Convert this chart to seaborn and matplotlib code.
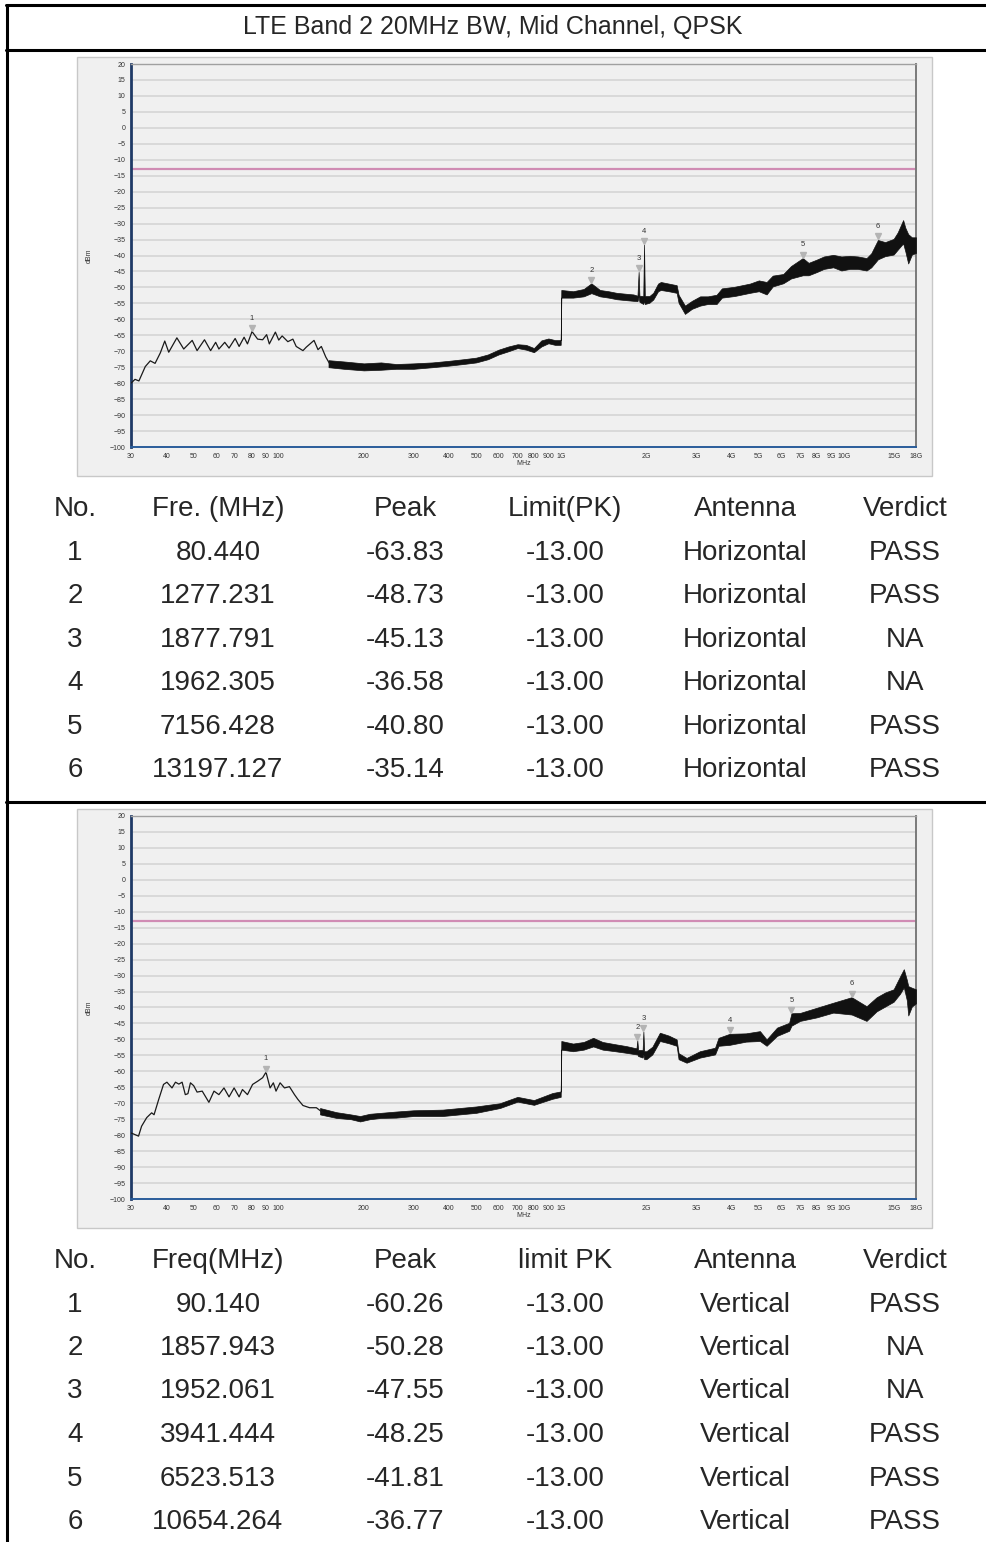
import numpy as np
import pandas as pd
import seaborn as sns
import matplotlib.pyplot as plt
from matplotlib.lines import Line2D
from matplotlib.patches import Rectangle
from matplotlib.ticker import NullLocator, MultipleLocator

W, H = 987, 1542

title = "LTE Band 2 20MHz BW, Mid Channel, QPSK"

# ---- scan 1: horizontal antenna ----
h_line_f = [30, 31, 32, 33.7, 35.1, 36.5, 38.1, 39.5, 40.8, 43.6, 46.1, 49.4, 51.4, 54.6,
            57.4, 59.8, 61.4, 64.4, 66.7, 70.1, 72.4, 75.4, 77.5, 80.44, 84.2, 87.7, 90.6,
            92.6, 97.3, 100, 102.8, 107.7, 112.2, 115.3, 121.8, 125.2, 133.3, 137.7, 141.5,
            146.7, 151.6]
h_line_v = [-80, -78.8, -79.3, -74.8, -73.0, -73.8, -70.5, -66.8, -70.3, -65.8, -69.3, -66.6,
            -69.8, -66.4, -69.8, -67.2, -69.3, -67.2, -69.0, -66.0, -68.5, -65.6, -67.7, -63.83,
            -66.2, -66.4, -64.8, -67.7, -64.0, -66.5, -65.2, -67.0, -66.2, -68.5, -69.8, -68.7,
            -66.6, -69.5, -68.5, -71.8, -74.0]

h_band_f = [150, 170, 200, 230, 260, 300, 350, 400, 450, 500, 550, 600, 650, 700, 750, 800,
            850, 900, 950, 995, 1000, 1100, 1200, 1277.231, 1370, 1470, 1570, 1700, 1800, 1860,
            1877.791, 1890, 1950, 1962.305, 1975, 2050, 2115, 2200, 2250, 2400, 2560, 2600, 2739,
            2900, 3100, 3300, 3544, 3700, 4100, 4651, 5000, 5328, 5600, 6102, 6500, 7156.428,
            7500, 8011, 8500, 9169, 9800, 10500, 11200, 12030, 12500, 13197.127, 14000, 15000,
            15500, 16210, 16500, 16890, 17400, 18000]
h_band_lo = [-75, -75.5, -76, -75.8, -75.5, -75.5, -75, -74.5, -74, -73.5, -72.5, -71, -70,
             -69, -69.5, -70.3, -68.5, -67.5, -68, -68, -53.2, -53.2, -52.8, -51.8, -52.8, -53.2,
             -53.7, -54, -54.2, -54.3, -53, -54.5, -55.2, -54, -55.2, -54.8, -53.8, -51.2, -50.8,
             -51.2, -51.7, -54.8, -58.3, -56.7, -55.7, -55.2, -55.2, -53.2, -52.7, -51.7, -51.2,
             -52.2, -49.7, -48.7, -47.2, -46.2, -46.2, -45.2, -44.2, -43.7, -44.7, -44.2, -44.2,
             -44.7, -43.7, -41.2, -40.2, -39.7, -38.2, -36.2, -38.7, -42.5, -39.7, -39.2]
h_band_hi = [-72.8, -73.2, -73.8, -73.5, -74, -73.8, -73.5, -73, -72.5, -72, -71, -69.5, -68.5,
             -67.8, -68, -69, -66.6, -66, -66.5, -66.5, -50.8, -51.2, -50.5, -48.73, -50.8, -51.2,
             -51.7, -52, -52.2, -52.6, -45.13, -52.6, -52.7, -36.58, -52.7, -52.7, -51.7, -48.8,
             -48.3, -48.8, -49.3, -52.3, -55.7, -54.2, -52.8, -52.8, -52.3, -50.3, -49.8, -48.8,
             -47.8, -48.3, -46.3, -45.8, -43.3, -40.8, -42.3, -41.3, -40.3, -39.8, -40.3, -40.1,
             -40.3, -40.8, -39.3, -35.14, -35.8, -34.8, -32.8, -28.9, -31.3, -33.3, -34.3, -34.3]

h_no = ["1", "2", "3", "4", "5", "6"]
h_freq = ["80.440", "1277.231", "1877.791", "1962.305", "7156.428", "13197.127"]
h_peak = ["-63.83", "-48.73", "-45.13", "-36.58", "-40.80", "-35.14"]
h_verdict = ["PASS", "PASS", "NA", "NA", "PASS", "PASS"]
h_mark_f = [80.440, 1277.231, 1877.791, 1962.305, 7156.428, 13197.127]
h_mark_v = [-63.83, -48.73, -45.13, -36.58, -40.80, -35.14]

# ---- scan 2: vertical antenna ----
v_line_f = [30, 31.9, 32.7, 34.1, 35.5, 36.2, 37.6, 39.1, 40.2, 41.9, 43.1, 44.3, 45.5, 46.7,
            47.7, 48.7, 50.0, 51.4, 53.6, 56.6, 59.0, 61.4, 64.0, 66.7, 69.5, 72.4, 74.4, 77.5,
            80.8, 84.2, 87.7, 90.14, 93.2, 95.7, 97.8, 101.1, 104.8, 109.1, 113.7, 116.9, 121.8,
            128.6, 135.9, 143.5]
v_line_v = [-79.3, -80.3, -77.2, -74.5, -73.0, -73.6, -68.8, -64.1, -63.4, -65.2, -63.4, -64.0,
            -63.4, -67.3, -67.0, -63.6, -64.5, -66.5, -66.2, -69.7, -66.2, -67.3, -65.2, -68.0,
            -65.2, -68.0, -65.7, -67.3, -64.1, -63.1, -62.0, -60.26, -65.2, -63.6, -66.2, -63.6,
            -65.2, -64.8, -67.3, -68.8, -70.7, -71.4, -71.4, -73.0]

v_band_f = [140, 160, 180, 194, 210, 230, 260, 300, 380, 500, 606, 700, 800, 930, 995, 1000,
            1100, 1200, 1297, 1400, 1550, 1700, 1845, 1857.943, 1870, 1940, 1952.061, 1965, 2000,
            2100, 2233, 2400, 2560, 2600, 2775, 3094, 3500, 3600, 3941.444, 4500, 5046, 5328,
            5800, 6400, 6523.513, 7000, 8011, 9169, 10654.264, 12030, 13059, 14000, 15000, 15800,
            16300, 16700, 16900, 17400, 18000]
v_band_lo = [-73.5, -74.6, -75, -75.7, -75, -74.6, -74.5, -74, -74, -73, -71.5, -69.5, -70.5,
             -68.6, -68, -53.2, -53.7, -53.2, -52.2, -53.2, -53.7, -54.2, -54.7, -54.7, -55.2,
             -55.7, -54.7, -56.2, -56.2, -54.7, -50.5, -51.2, -52, -56.2, -57.3, -55.7, -54.7,
             -52, -51.7, -50.7, -50.5, -52, -48.9, -47.3, -45.7, -44.2, -43.1, -41.6, -42.2,
             -44.2, -41.2, -39.7, -38.2, -35.7, -33.7, -37.7, -42.5, -39.7, -38.7]
v_band_hi = [-71.5, -72.8, -73.5, -74, -73.3, -73, -72.6, -72.2, -72, -71, -70, -68, -69,
             -66.8, -66.3, -50.5, -51.3, -50.8, -49.5, -50.8, -51.5, -52.1, -52.8, -50.28, -53.3,
             -53.3, -47.55, -53.7, -53.7, -52.3, -47.9, -48.8, -50, -54.3, -55.8, -53.7, -52.6,
             -49.5, -48.25, -48.1, -47.4, -50, -46.3, -44.8, -41.81, -41.7, -40.1, -38.5, -36.77,
             -39.6, -36.8, -35.3, -34.3, -30.3, -28, -31.3, -33.3, -33.8, -34.3]

v_no = ["1", "2", "3", "4", "5", "6"]
v_freq = ["90.140", "1857.943", "1952.061", "3941.444", "6523.513", "10654.264"]
v_peak = ["-60.26", "-50.28", "-47.55", "-48.25", "-41.81", "-36.77"]
v_verdict = ["PASS", "NA", "NA", "PASS", "PASS", "PASS"]
v_mark_f = [90.140, 1857.943, 1952.061, 3941.444, 6523.513, 10654.264]
v_mark_v = [-60.26, -50.28, -47.55, -48.25, -41.81, -36.77]

limit_value = -13.0
h_headers = ["No.", "Fre. (MHz)", "Peak", "Limit(PK)", "Antenna", "Verdict"]
v_headers = ["No.", "Freq(MHz)", "Peak", "limit PK", "Antenna", "Verdict"]

x_ticks = [30, 40, 50, 60, 70, 80, 90, 100, 200, 300, 400, 500, 600, 700, 800, 900,
           1000, 2000, 3000, 4000, 5000, 6000, 7000, 8000, 9000, 10000, 15000, 18000]
x_labels = ["30", "40", "50", "60", "70", "80", "90", "100", "200", "300", "400", "500",
            "600", "700", "800", "900", "1G", "2G", "3G", "4G", "5G", "6G", "7G", "8G",
            "9G", "10G", "15G", "18G"]

sns.set_style("white")
plt.rcParams["font.family"] = ["Liberation Sans", "DejaVu Sans"]

fig = plt.figure(figsize=(W / 100, H / 100), dpi=100)


def fx(px):
    return px / W


def fy(py):
    return 1 - py / H


def hline(py, x0=6, x1=W, lw=2.2):
    fig.add_artist(Line2D([fx(x0), fx(x1)], [fy(py), fy(py)], color="black", lw=lw))


def draw_chart(top, line_f, line_v, band_f, band_lo, band_hi, mark_f, mark_v, panel_bottom):
    # grey screenshot panel behind the analyser plot
    fig.add_artist(Rectangle((fx(77), fy(panel_bottom)), fx(932 - 77), (panel_bottom - top + 7) / H,
                             transform=fig.transFigure, facecolor="#F0F0F0",
                             edgecolor="#C8C8C8", lw=1.0, zorder=0))
    ax = fig.add_axes([fx(131), fy(top + 383), fx(916 - 131), 383 / H])
    ax.set_facecolor("#F0F0F0")
    ax.set_xscale("log")
    ax.set_xlim(30, 18000)
    ax.set_ylim(-100, 20)

    for yv in range(-95, 20, 5):
        ax.axhline(yv, color="#D9D9D9", lw=1.4, zorder=1)
    ax.axhline(limit_value, color="#D08CB4", lw=1.6, zorder=2)

    ax.fill_between(band_f, band_lo, band_hi, facecolor="#111111", edgecolor="#111111",
                    lw=0.5, zorder=3)
    df = pd.DataFrame({"f": line_f, "v": line_v})
    sns.lineplot(data=df, x="f", y="v", ax=ax, color="#1A1A1A", lw=0.9,
                 sort=False, estimator=None, zorder=3)

    ax.plot(mark_f, np.array(mark_v) + 1.1, "v", color="#B4B4B4", ms=4, zorder=4)
    for i, (f, v) in enumerate(zip(mark_f, mark_v)):
        ax.annotate(str(i + 1), (f, v), xytext=(0, 9.5), textcoords="offset points",
                    ha="center", va="center", fontsize=5.5, color="#333333")

    ax.set_xticks(x_ticks)
    ax.set_xticklabels(x_labels)
    ax.xaxis.set_minor_locator(NullLocator())
    ax.set_yticks(range(-100, 21, 5))
    ax.yaxis.set_minor_locator(MultipleLocator(1))
    ax.tick_params(axis="both", which="major", labelsize=5, length=2.5, width=0.6,
                   colors="#333333", pad=1.5)
    ax.tick_params(axis="y", which="minor", length=1.2, width=0.5, color="#555555")
    ax.set_xlabel("MHz", fontsize=5, labelpad=0.5, color="#333333")
    ax.set_ylabel("dBm", fontsize=5, labelpad=12, color="#333333")

    ax.spines["left"].set_color("#1F3A66")
    ax.spines["left"].set_linewidth(2.0)
    ax.spines["bottom"].set_color("#2A5C9A")
    ax.spines["bottom"].set_linewidth(1.4)
    ax.spines["top"].set_color("#A0A0A0")
    ax.spines["top"].set_linewidth(1.0)
    ax.spines["right"].set_color("#7A7A7A")
    ax.spines["right"].set_linewidth(1.4)
    return ax


def draw_table(head_y, headers, nos, freqs, peaks, verdicts, antenna):
    col_x = [75, 218, 405, 565, 745, 905]
    step = 43.5
    for cx, txt in zip(col_x, headers):
        fig.text(fx(cx), fy(head_y), txt, ha="center", va="center", fontsize=20)
    for r in range(len(nos)):
        yy = fy(head_y + step * (r + 1))
        row = [nos[r], freqs[r], peaks[r], "%.2f" % limit_value, antenna, verdicts[r]]
        for cx, txt in zip(col_x, row):
            fig.text(fx(cx), yy, txt, ha="center", va="center", fontsize=20)


# table frame
fig.add_artist(Line2D([fx(7), fx(7)], [fy(5), 0], color="black", lw=2.2))
hline(5)
hline(50)
hline(802)
fig.text(fx(493), fy(27), title, ha="center", va="center", fontsize=18)

draw_chart(64, h_line_f, h_line_v, h_band_f, h_band_lo, h_band_hi, h_mark_f, h_mark_v, 476)
draw_chart(816, v_line_f, v_line_v, v_band_f, v_band_lo, v_band_hi, v_mark_f, v_mark_v, 1228)

draw_table(509, h_headers, h_no, h_freq, h_peak, h_verdict, "Horizontal")
draw_table(1261, v_headers, v_no, v_freq, v_peak, v_verdict, "Vertical")

fig.savefig("out.png", dpi=100)
